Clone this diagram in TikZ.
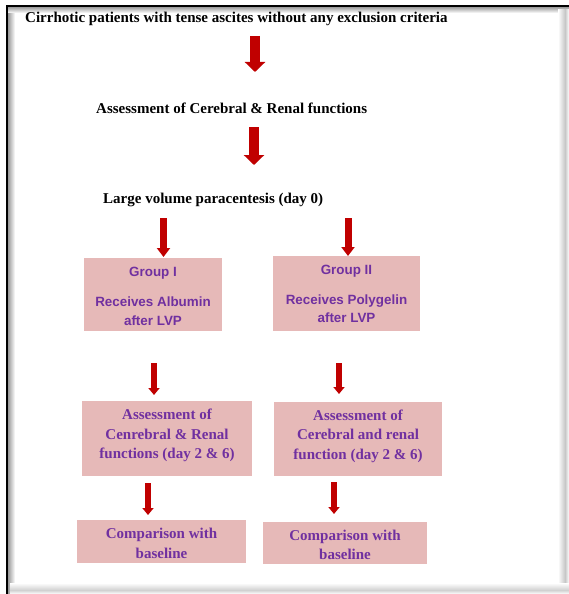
\documentclass[tikz,border=0pt]{standalone}
\usepackage{fontspec}
\setmainfont{Liberation Serif}
\setsansfont{Liberation Sans}
\usetikzlibrary{arrows.meta}
\definecolor{boxpink}{HTML}{E6B9B8}
\definecolor{txtpurple}{HTML}{7030A0}
\definecolor{arrred}{HTML}{C00000}
\begin{document}
\begin{tikzpicture}[x=1pt,y=-1pt,
  toptext/.style={font=\fontsize{15}{17}\selectfont\bfseries, inner sep=0pt, anchor=base west},
  boxfill/.style={fill=boxpink, draw=none, inner sep=0pt},
  boxserif/.style={text=txtpurple, align=center, inner sep=0pt, font=\fontsize{15}{19.5}\selectfont\bfseries},
  boxsans/.style={text=txtpurple, align=center, inner sep=0pt, font=\sffamily\fontsize{13.4}{18.5}\selectfont\bfseries},
  bigarrow/.style={arrred, line width=10pt, -{Triangle[width=20pt,length=10pt]}},
  midarrow/.style={arrred, line width=7pt, -{Triangle[width=13pt,length=9pt]}},
  smallarrow/.style={arrred, line width=6pt, -{Triangle[width=11pt,length=7pt]}}]
\useasboundingbox (0,0) rectangle (569,594);
\fill[white] (0,0) rectangle (569,594);
% frame with shadow
\shade[left color=black!45, right color=white] (7,6) rectangle (15,594);
\shade[top color=black!45, bottom color=white] (7,6) rectangle (569,13);
\shade[left color=white, right color=black!22] (558,10) rectangle (565,594);
\shade[left color=black!22, right color=white] (565,10) rectangle (569,594);
\shade[top color=white, bottom color=black!18] (10,583) rectangle (569,590);
\shade[top color=black!18, bottom color=white] (10,590) rectangle (569,594);
\draw[black, line width=1.5pt] (7,594) -- (7,6) -- (569,6);

% texts
\node[toptext] (t1) at (25,22.7) {Cirrhotic patients with tense ascites without any exclusion criteria};
\node[toptext] (t2) at (96,113) {Assessment of Cerebral \& Renal functions};
\node[toptext] (t3) at (103,203) {Large volume paracentesis (day 0)};

% boxes
\node[boxfill, minimum width=138, minimum height=73] (g1) at (153,294.5) {};
\node[boxsans] (g1t) at (153,296) {Group I\\[12pt]Receives Albumin\\after LVP};
\node[boxfill, minimum width=147, minimum height=75] (g2) at (346.5,293.5) {};
\node[boxsans] (g2t) at (346.5,294) {Group II\\[11pt]Receives Polygelin\\after LVP};

\node[boxfill, minimum width=170, minimum height=75] (a1) at (167,438.5) {};
\node[boxserif] (a1t) at (167,435.5) {Assessment of\\Cenrebral \& Renal\\functions (day 2 \& 6)};
\node[boxfill, minimum width=168, minimum height=74] (a2) at (358,439) {};
\node[boxserif] (a2t) at (358,436) {Assessment of\\Cerebral and renal\\function (day 2 \& 6)};

\node[boxfill, minimum width=169, minimum height=43] (c1) at (161.5,541.5) {};
\node[boxserif] (c1t) at (161.5,543.5) {Comparison with\\baseline};
\node[boxfill, minimum width=164, minimum height=42] (c2) at (345,543) {};
\node[boxserif] (c2t) at (345,545) {Comparison with\\baseline};

% arrow end points
\coordinate (p1s) at (255,36);  \coordinate (p1e) at (255,72);
\coordinate (p2s) at (254,127); \coordinate (p2e) at (254,165);
\coordinate (p3s) at (163.5,218); \coordinate (p3e) at (163.5,257);
\coordinate (p4s) at (348,218); \coordinate (p4e) at (348,256);
\coordinate (p5s) at (154,363); \coordinate (p5e) at (154,395);
\coordinate (p6s) at (339,363); \coordinate (p6e) at (339,394);
\coordinate (p7s) at (148,483); \coordinate (p7e) at (148,515);
\coordinate (p8s) at (334,482); \coordinate (p8e) at (334,514);

\draw[bigarrow] (p1s) -- (p1e);
\draw[bigarrow] (p2s) -- (p2e);
\draw[midarrow] (p3s) -- (p3e);
\draw[midarrow] (p4s) -- (p4e);
\draw[smallarrow] (p5s) -- (p5e);
\draw[smallarrow] (p6s) -- (p6e);
\draw[smallarrow] (p7s) -- (p7e);
\draw[smallarrow] (p8s) -- (p8e);
\end{tikzpicture}
\end{document}
